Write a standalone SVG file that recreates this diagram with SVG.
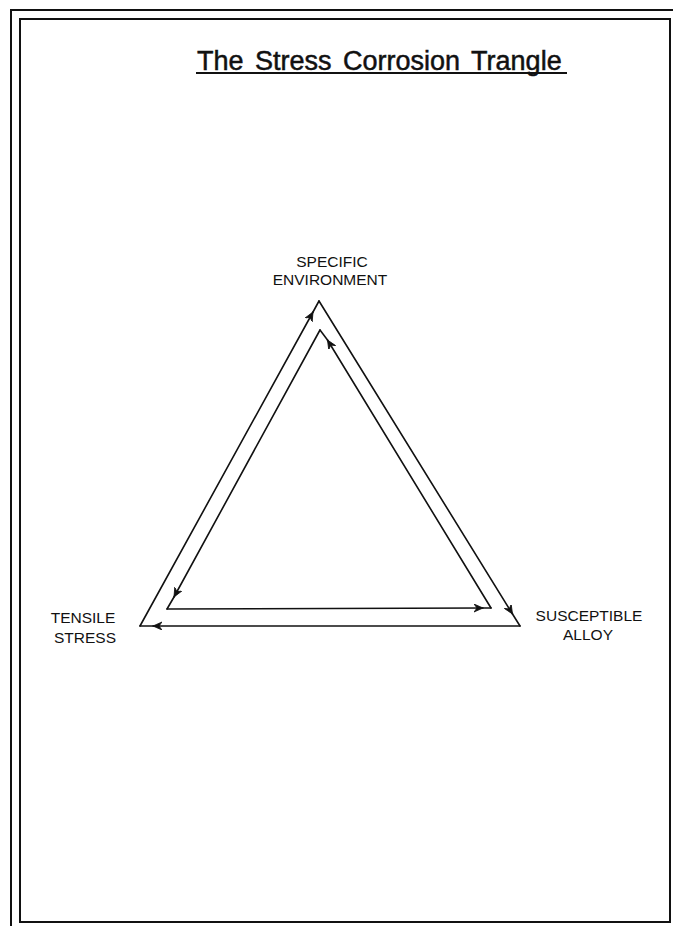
<svg xmlns="http://www.w3.org/2000/svg" width="673" height="926" viewBox="0 0 673 926">
<style>
.frame{fill:none;stroke:#111;stroke-width:2}
.edge{fill:none;stroke:#111;stroke-width:1.6;stroke-linecap:round}
.lbl{font-family:"Liberation Sans",Arial,sans-serif;font-size:15.5px;fill:#111;text-anchor:middle}
.title{font-family:"Liberation Sans",Arial,sans-serif;font-size:27px;fill:#111;stroke:#111;stroke-width:0.5;word-spacing:4px}
</style>
<defs>
<marker id="ah" markerUnits="userSpaceOnUse" markerWidth="12" markerHeight="10" refX="9" refY="4" orient="auto">
<path d="M0,0 L9,4 L0,8 L3,4 Z" fill="#111" stroke="#111" stroke-width="0.8"/>
</marker>
</defs>
<rect width="673" height="926" fill="#fff"/>
<g id="frame">
<line class="frame" x1="10" y1="10" x2="673" y2="10"/>
<line class="frame" x1="11" y1="10" x2="11" y2="926"/>
<rect class="frame" x="20" y="19" width="650" height="903"/>
</g>
<g id="title">
<text class="title" x="197" y="70">The Stress Corrosion Trangle</text>
<line x1="196" y1="73" x2="567" y2="73" stroke="#111" stroke-width="2"/>
</g>
<g id="node-environment">
<text class="lbl" x="332" y="267">SPECIFIC</text>
<text class="lbl" x="330" y="285">ENVIRONMENT</text>
</g>
<g id="node-tensile">
<text class="lbl" x="83" y="623">TENSILE</text>
<text class="lbl" x="85" y="643">STRESS</text>
</g>
<g id="node-alloy">
<text class="lbl" x="589" y="621">SUSCEPTIBLE</text>
<text class="lbl" x="588" y="640">ALLOY</text>
</g>
<g id="connectors">
<!-- outer cycle: tensile -> environment -> alloy -> tensile -->
<line class="edge" x1="140" y1="626" x2="313" y2="312" marker-end="url(#ah)"/>
<line class="edge" x1="313" y1="312" x2="319" y2="301"/>
<line class="edge" x1="319" y1="301" x2="512.5" y2="614" marker-end="url(#ah)"/>
<line class="edge" x1="512.5" y1="614" x2="520" y2="626"/>
<line class="edge" x1="520" y1="626" x2="153" y2="626" marker-end="url(#ah)"/>
<line class="edge" x1="153" y1="626" x2="140" y2="626"/>
<!-- inner cycle: alloy -> environment -> tensile -> alloy -->
<line class="edge" x1="491" y1="608" x2="327.5" y2="340" marker-end="url(#ah)"/>
<line class="edge" x1="327.5" y1="340" x2="320" y2="330"/>
<line class="edge" x1="320" y1="330" x2="174" y2="597" marker-end="url(#ah)"/>
<line class="edge" x1="174" y1="597" x2="167" y2="609"/>
<line class="edge" x1="167" y1="609" x2="483" y2="608" marker-end="url(#ah)"/>
<line class="edge" x1="483" y1="608" x2="491" y2="608"/>
</g>
</svg>
